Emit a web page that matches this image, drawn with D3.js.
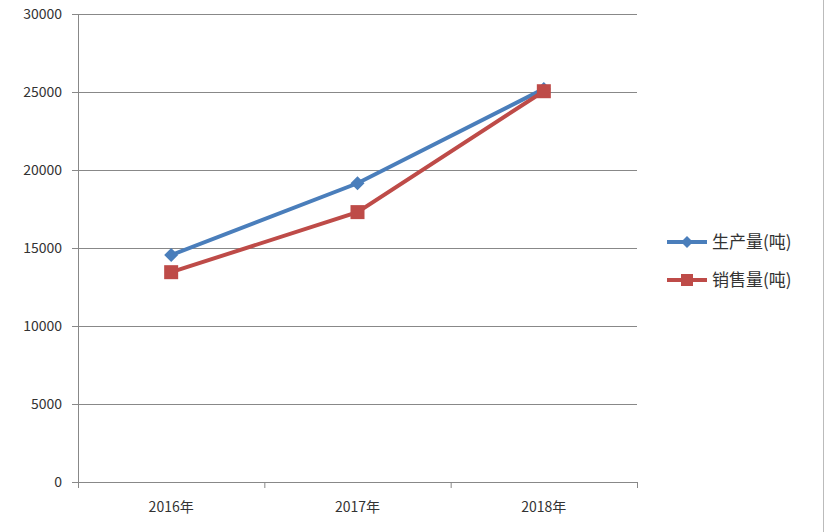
<!DOCTYPE html>
<html><head><meta charset="utf-8">
<script src="https://cdn.jsdelivr.net/npm/d3@7"></script>
<style>body{margin:0;background:#fff}svg{font-family:"Noto Sans CJK SC","Liberation Sans",sans-serif}</style>
</head><body><svg id="c" width="833" height="532"></svg>
<script>
const categories = ["2016年","2017年","2018年"];
const production = [14550, 19150, 25200];
const sales = [13450, 17300, 25050];
const yTicks = [0,5000,10000,15000,20000,25000,30000];
const seriesNames = ["生产量(吨)","销售量(吨)"];
const colors = ["#4a7ebb","#be4b48"];

const svg = d3.select("#c");
const L=78,R=637,T=14,B=482;
const x = d3.scaleBand().domain(categories).range([L,R]);
const y = d3.scaleLinear().domain([0,30000]).range([B,T]);
const diamond = (w,h)=>`M0,${-h}L${w},0L0,${h}L${-w},0Z`;

svg.append("line").attr("x1",823.5).attr("x2",823.5).attr("y1",0).attr("y2",532).attr("stroke","#bbb");
const g = svg.append("g");
yTicks.forEach(t=>{
  g.append("line").attr("x1",L-6).attr("x2",R).attr("y1",Math.round(y(t))+0.5).attr("y2",Math.round(y(t))+0.5)
   .attr("stroke","#888").attr("stroke-width",1);
  g.append("text").attr("x",L-16).attr("y",y(t)+5).attr("text-anchor","end").attr("font-size",14).attr("fill","#333").text(t);
});
g.append("line").attr("x1",L+0.5).attr("x2",L+0.5).attr("y1",T).attr("y2",B).attr("stroke","#888");
categories.forEach((c,i)=>{
  g.append("line").attr("x1",x(c)+x.bandwidth()+0.5).attr("x2",x(c)+x.bandwidth()+0.5).attr("y1",B).attr("y2",B+6).attr("stroke","#888");
  g.append("text").attr("x",x(c)+x.bandwidth()/2).attr("y",B+30).attr("text-anchor","middle").attr("font-size",14).attr("fill","#333").text(c);
});
g.append("line").attr("x1",L+0.5).attr("x2",L+0.5).attr("y1",B).attr("y2",B+6).attr("stroke","#888");

const line = d3.line().x((d,i)=>x(categories[i])+x.bandwidth()/2).y(d=>y(d));
[production,sales].forEach((s,k)=>{
  svg.append("path").attr("d",line(s)).attr("fill","none").attr("stroke",colors[k]).attr("stroke-width",4);
  s.forEach((v,i)=>{
    const cx=x(categories[i])+x.bandwidth()/2, cy=y(v);
    if(k===0) svg.append("path").attr("d",diamond(7,7)).attr("transform",`translate(${cx},${cy})`).attr("fill",colors[0]);
    else svg.append("rect").attr("x",cx-7).attr("y",cy-7).attr("width",14).attr("height",14).attr("fill",colors[1]);
  });
});
seriesNames.forEach((n,k)=>{
  const ly=242+k*38;
  svg.append("line").attr("x1",667).attr("x2",707).attr("y1",ly).attr("y2",ly).attr("stroke",colors[k]).attr("stroke-width",4);
  if(k===0) svg.append("path").attr("d",diamond(6,6)).attr("transform",`translate(687,${ly})`).attr("fill",colors[0]);
  else svg.append("rect").attr("x",681).attr("y",ly-6).attr("width",12).attr("height",12).attr("fill",colors[1]);
  svg.append("text").attr("x",712).attr("y",ly+6).attr("font-size",17).attr("fill","#333").text(n);
});
</script></body></html>
